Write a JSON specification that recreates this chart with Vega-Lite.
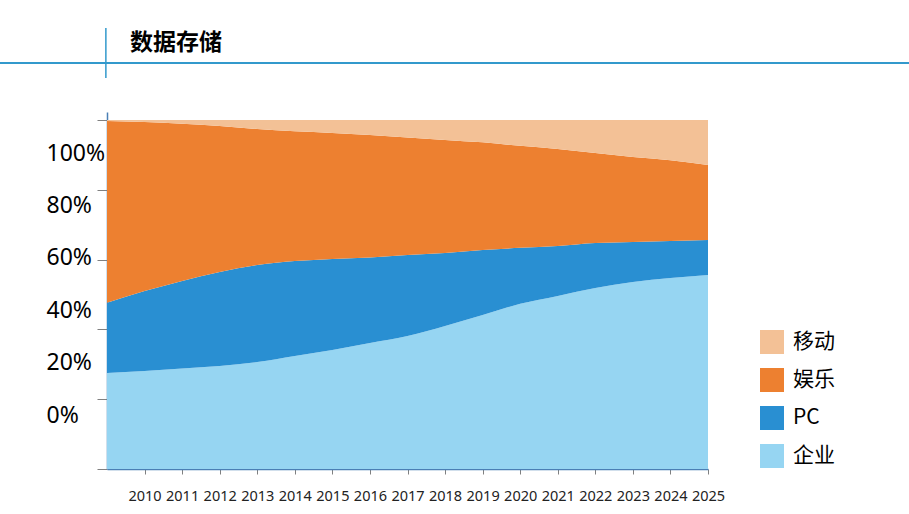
{
  "$schema": "https://vega.github.io/schema/vega-lite/v6.json",
  "width": 601,
  "height": 357,
  "autosize": {"type": "none"},
  "padding": {"left": 107, "top": 112, "right": 201, "bottom": 45},
  "background": "white",
  "title": {"text": "数据存储", "anchor": "start", "frame": "group", "dx": 23, "offset": 0, "dy": 28, "font": "Noto Sans CJK SC", "fontSize": 23, "fontWeight": "bold", "color": "#000000"},
  "data": {"values": [
    {"year": 2009, "series": "企业", "share": 27.5}, {"year": 2009, "series": "PC", "share": 20.1}, {"year": 2009, "series": "娱乐", "share": 52.1}, {"year": 2009, "series": "移动", "share": 0.3},
    {"year": 2010, "series": "企业", "share": 28.1}, {"year": 2010, "series": "PC", "share": 22.9}, {"year": 2010, "series": "娱乐", "share": 48.4}, {"year": 2010, "series": "移动", "share": 0.6},
    {"year": 2011, "series": "企业", "share": 28.8}, {"year": 2011, "series": "PC", "share": 25.1}, {"year": 2011, "series": "娱乐", "share": 45.0}, {"year": 2011, "series": "移动", "share": 1.1},
    {"year": 2012, "series": "企业", "share": 29.5}, {"year": 2012, "series": "PC", "share": 26.9}, {"year": 2012, "series": "娱乐", "share": 41.8}, {"year": 2012, "series": "移动", "share": 1.7},
    {"year": 2013, "series": "企业", "share": 30.7}, {"year": 2013, "series": "PC", "share": 27.8}, {"year": 2013, "series": "娱乐", "share": 39.0}, {"year": 2013, "series": "移动", "share": 2.6},
    {"year": 2014, "series": "企业", "share": 32.4}, {"year": 2014, "series": "PC", "share": 27.2}, {"year": 2014, "series": "娱乐", "share": 37.2}, {"year": 2014, "series": "移动", "share": 3.2},
    {"year": 2015, "series": "企业", "share": 34.1}, {"year": 2015, "series": "PC", "share": 26.1}, {"year": 2015, "series": "娱乐", "share": 36.1}, {"year": 2015, "series": "移动", "share": 3.7},
    {"year": 2016, "series": "企业", "share": 36.1}, {"year": 2016, "series": "PC", "share": 24.5}, {"year": 2016, "series": "娱乐", "share": 35.1}, {"year": 2016, "series": "移动", "share": 4.3},
    {"year": 2017, "series": "企业", "share": 38.1}, {"year": 2017, "series": "PC", "share": 23.2}, {"year": 2017, "series": "娱乐", "share": 33.7}, {"year": 2017, "series": "移动", "share": 5.0},
    {"year": 2018, "series": "企业", "share": 41.0}, {"year": 2018, "series": "PC", "share": 20.9}, {"year": 2018, "series": "娱乐", "share": 32.4}, {"year": 2018, "series": "移动", "share": 5.7},
    {"year": 2019, "series": "企业", "share": 44.1}, {"year": 2019, "series": "PC", "share": 18.6}, {"year": 2019, "series": "娱乐", "share": 30.8}, {"year": 2019, "series": "移动", "share": 6.4},
    {"year": 2020, "series": "企业", "share": 47.3}, {"year": 2020, "series": "PC", "share": 16.0}, {"year": 2020, "series": "娱乐", "share": 29.2}, {"year": 2020, "series": "移动", "share": 7.4},
    {"year": 2021, "series": "企业", "share": 49.6}, {"year": 2021, "series": "PC", "share": 14.3}, {"year": 2021, "series": "娱乐", "share": 27.8}, {"year": 2021, "series": "移动", "share": 8.3},
    {"year": 2022, "series": "企业", "share": 51.9}, {"year": 2022, "series": "PC", "share": 12.9}, {"year": 2022, "series": "娱乐", "share": 25.8}, {"year": 2022, "series": "移动", "share": 9.5},
    {"year": 2023, "series": "企业", "share": 53.6}, {"year": 2023, "series": "PC", "share": 11.5}, {"year": 2023, "series": "娱乐", "share": 24.4}, {"year": 2023, "series": "移动", "share": 10.6},
    {"year": 2024, "series": "企业", "share": 54.7}, {"year": 2024, "series": "PC", "share": 10.6}, {"year": 2024, "series": "娱乐", "share": 23.2}, {"year": 2024, "series": "移动", "share": 11.5},
    {"year": 2025, "series": "企业", "share": 55.6}, {"year": 2025, "series": "PC", "share": 10.0}, {"year": 2025, "series": "娱乐", "share": 21.5}, {"year": 2025, "series": "移动", "share": 12.9}
  ]},
  "layer": [
    {
      "layer": [
        {
          "mark": {"type": "area", "interpolate": "monotone", "opacity": 1},
          "transform": [{"calculate": "indexof(['企业','PC','娱乐','移动'], datum.series)", "as": "ord"}],
          "encoding": {
            "x": {"field": "year", "type": "quantitative",
              "scale": {"domain": [2009, 2025], "nice": false, "zero": false},
              "axis": {"values": [2010, 2011, 2012, 2013, 2014, 2015, 2016, 2017, 2018, 2019, 2020, 2021, 2022, 2023, 2024, 2025], "format": "d", "tickSize": 5, "tickColor": "#808080", "domainColor": "#4a7fb5", "domainWidth": 1.5, "labelFontSize": 14.5, "labelFont": "Noto Sans", "labelColor": "#222222", "labelPadding": 15, "labelFlush": false, "title": null, "grid": false}},
            "y": {"field": "share", "type": "quantitative", "stack": "normalize",
              "scale": {"domain": [0, 1.0229], "nice": false},
              "axis": {"values": [0, 0.2, 0.4, 0.6, 0.8, 1], "labels": false, "tickSize": 10, "tickColor": "#808080", "domainColor": "#4a7fb5", "domainWidth": 1.5, "title": null, "grid": false}},
            "color": {"field": "series", "type": "nominal",
              "scale": {"domain": ["移动", "娱乐", "PC", "企业"], "range": ["#f3c196", "#ed8030", "#298fd2", "#96d5f2"]},
              "legend": {"title": null, "orient": "none", "legendX": 653, "legendY": 218, "symbolType": "square", "symbolSize": 576, "symbolStrokeWidth": 0, "symbolOpacity": 1, "labelFontSize": 21, "labelFont": "Noto Sans CJK SC", "labelColor": "#000000", "rowPadding": 14, "labelOffset": 9}},
            "order": {"field": "ord", "type": "quantitative", "sort": "ascending"}
          }
        },
        {
          "data": {"values": [{}]},
          "mark": {"type": "rule", "color": "#3399cc", "strokeWidth": 2},
          "encoding": {
            "x": {"datum": 2000, "type": "quantitative"},
            "x2": {"datum": 2040},
            "y": {"datum": 1.1633, "type": "quantitative"}
          }
        },
        {
          "data": {"values": [{}]},
          "mark": {"type": "rule", "color": "#3399cc", "strokeWidth": 1.5},
          "encoding": {
            "x": {"datum": 2008.97, "type": "quantitative"},
            "y": {"datum": 1.2636, "type": "quantitative"},
            "y2": {"datum": 1.1203}
          }
        }
      ]
    },
    {
      "data": {"values": [{}]},
      "mark": {"type": "rule", "opacity": 0},
      "encoding": {
        "y": {"datum": 0, "type": "quantitative",
          "scale": {"domain": [-20.61, 115.65], "nice": false, "zero": false},
          "axis": {"orient": "left", "values": [0, 20, 40, 60, 80, 100], "labelExpr": "datum.value + '%'", "ticks": false, "tickSize": 0, "domain": false, "grid": false, "labelAlign": "left", "labelBaseline": "middle", "labelPadding": 61, "labelFontSize": 23, "labelFont": "Noto Sans", "labelColor": "#000000", "title": null}}
      }
    }
  ],
  "resolve": {"scale": {"y": "independent"}},
  "config": {"view": {"stroke": null}, "axis": {"grid": false}}
}
